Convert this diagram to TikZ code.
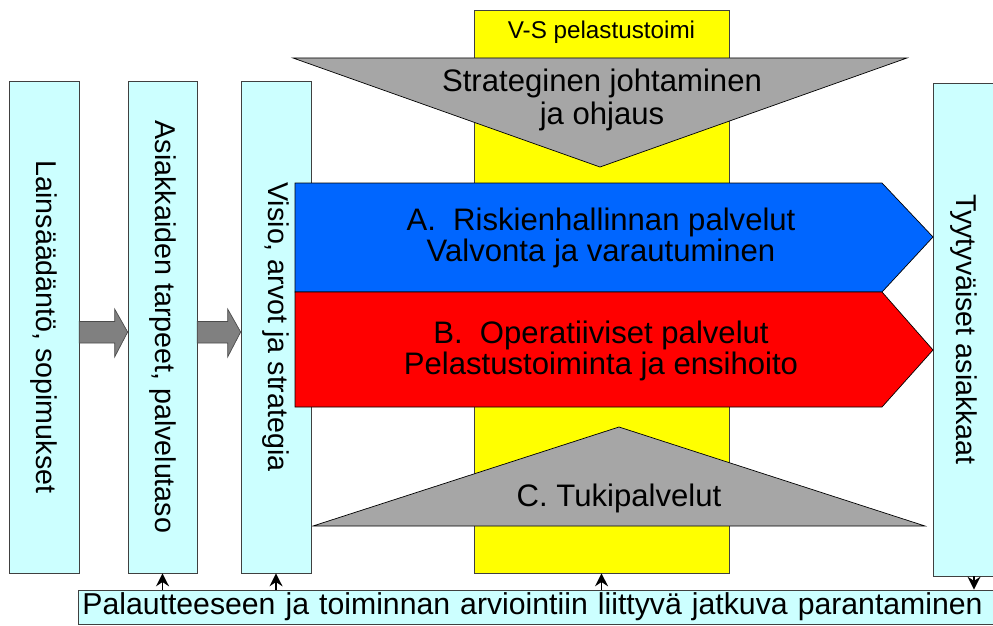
\documentclass[tikz,border=0pt]{standalone}
\usepackage{fontspec}
\usepackage{graphicx}
\setmainfont{Liberation Sans}
\usetikzlibrary{positioning,calc,arrows.meta}
\definecolor{boxcyan}{HTML}{CCFFFF}
\definecolor{vsyellow}{HTML}{FFFF00}
\definecolor{trigray}{HTML}{A6A6A6}
\definecolor{arrgray}{HTML}{808080}
\definecolor{riskblue}{HTML}{0066FF}
\definecolor{opred}{HTML}{FF0000}
\newcommand{\bigtext}{\fontsize{17.7}{17.8}\selectfont}
\newcommand{\sidetext}{\fontsize{16.3}{18}\selectfont}

\begin{document}
\begin{tikzpicture}[x=0.02cm,y=-0.02cm,
    box/.style={rectangle,draw=black!75,fill=boxcyan,inner sep=0pt,
                minimum width=1.4cm,minimum height=9.84cm,font=\sidetext},
    shape3/.style={draw=black,line join=miter},
    blockarrow/.style={draw=black!70,fill=arrgray},
    fb/.style={-{Stealth[length=2.6mm,width=2.6mm]},thick}
]
\clip (0,0) rectangle (993,625);

% pillar in the middle
\node[rectangle,draw=black!75,fill=vsyellow,minimum width=5.1cm,minimum height=11.26cm,
      inner sep=0pt] (vs) at (601.5,291.5) {};
\node[font=\fontsize{13.8}{15}\selectfont] (vslabel) at ($(vs.north)+(0,23)$) {V-S pelastustoimi};

% strategic management (down) and support (up)
\filldraw[shape3,fill=trigray] (293,58) -- (907,58) -- (600,167) -- cycle;
\node[font=\fontsize{17.7}{18.8}\selectfont,align=center] (strat) at (602,100)
     {Strateginen johtaminen\\ja ohjaus};
\filldraw[shape3,fill=trigray] (313,526) -- (925,526) -- (619,427) -- cycle;
\node[font=\bigtext] (tuki) at (619,498) {C. Tukipalvelut};

% left boxes
\node[box] (law)    at (44,327)    {\rotatebox{-90}{Lainsäädäntö, sopimukset}};
\node[box,minimum width=1.38cm] (needs) at (162.5,327) {\rotatebox{-90}{Asiakkaiden tarpeet, palvelutaso}};
\node[box] (vision) at (276,327)   {\rotatebox{-90}{Visio, arvot ja strategia}};
\node[box,minimum width=1.24cm,minimum height=9.86cm] (happy) at (964,329.5)
     {\rotatebox{-90}{Tyytyväiset asiakkaat}};

% service arrows
\filldraw[shape3,fill=riskblue] (295,183) -- (882,183) -- (933,237) -- (882,292) -- (295,292) -- cycle;
\node[font=\bigtext,align=center] (risk) at (601,238)
     {A.\ \ Riskienhallinnan palvelut\\Valvonta ja varautuminen};
\filldraw[shape3,fill=opred] (295,292) -- (882,292) -- (933,350) -- (882,407) -- (295,407) -- cycle;
\node[font=\bigtext,align=center] (oper) at (601,351)
     {B.\ \ Operatiiviset palvelut\\Pelastustoiminta ja ensihoito};

% grey arrows between the boxes
\foreach \a/\b in {law/needs,needs/vision}
  \filldraw[blockarrow] ($(\a.east)+(0,-5.5)$) -- ($(\b.west)+(-13,-5.5)$)
     -- ($(\b.west)+(-13,-18)$) -- ($(\b.west)+(0,5)$) -- ($(\b.west)+(-13,30)$)
     -- ($(\b.west)+(-13,16)$) -- ($(\a.east)+(0,16)$) -- cycle;

% feedback bar
\node[rectangle,draw=black!75,fill=boxcyan,anchor=west,minimum height=0.68cm,
      inner sep=0pt,inner xsep=0.08cm,text width=18.4cm,align=left,
      font=\fontsize{17.2}{17.8}\selectfont] (bar) at (78,607)
     {Palautteeseen ja toiminnan arviointiin liittyvä jatkuva parantaminen};

\foreach \n in {needs,vision,vs}
  \draw[fb] (bar.north -| \n.south) -- (\n.south);
\draw[fb] ($(happy.south)+(10,0)$) -- (bar.north -| {$(happy.south)+(10,0)$});
\end{tikzpicture}
\end{document}
